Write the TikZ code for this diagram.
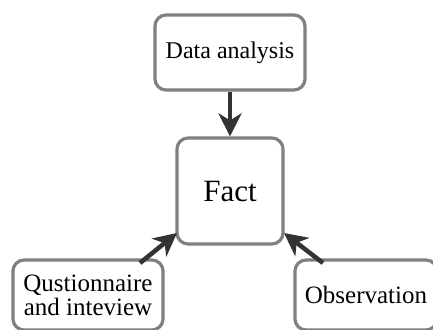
\documentclass[tikz,border=0pt]{standalone}
\usepackage{fontspec}
\setmainfont{Liberation Serif}
\usetikzlibrary{arrows.meta}
\tikzset{
  box/.style={draw=black!50, line width=3.2pt, rounded corners=11pt, fill=white,
    inner sep=0pt, align=center},
  flow/.style={draw=black!80, line width=4.5pt,
    -{Stealth[length=23pt,width=23pt,inset=7pt]}},
}
\begin{document}
\begin{tikzpicture}[x=1pt,y=-1pt]
\useasboundingbox (0,0) rectangle (433,329);
\begin{scope}
\clip (0,0) rectangle (433,329);
% boxes
\node[box, minimum width=150pt, minimum height=75pt,
  font=\fontsize{24}{26}\selectfont] (data) at (230,52.5) {Data analysis};
\node[box, minimum width=106pt, minimum height=106pt,
  font=\fontsize{31}{33}\selectfont] (fact) at (230,191) {Fact};
\node[box, minimum width=150pt, minimum height=70pt,
  font=\fontsize{25}{24}\selectfont] (quest) at (88,295) {Qustionnaire\\and inteview};
\node[box, minimum width=142pt, minimum height=70pt,
  font=\fontsize{25}{27}\selectfont] (obs) at (366,295) {Observation};
% arrow ends
\coordinate (qtail) at (140,263);
\coordinate (qtip) at (177,233);
\coordinate (otail) at (323,263);
\coordinate (otip) at (284,233);
% arrows
\draw[flow] (data.south) -- (fact.north);
\draw[flow] (qtail) -- (qtip);
\draw[flow] (otail) -- (otip);
\end{scope}
\end{tikzpicture}
\end{document}
